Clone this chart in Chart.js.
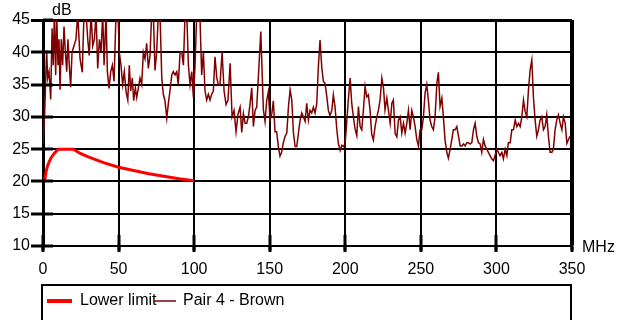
<!DOCTYPE html>
<html>
<head>
<meta charset="utf-8">
<style>
  html, body { margin: 0; padding: 0; background: #fff; }
  #wrap { width: 628px; height: 320px; }
</style>
</head>
<body>
<div id="wrap"><canvas id="chart" width="628" height="320"></canvas></div>
<script src="https://cdn.jsdelivr.net/npm/chart.js@4.4.1/dist/chart.umd.min.js"></script>
<script>
// axis ticks
const xTickValues = [0, 50, 100, 150, 200, 250, 300, 350];
const yTickValues = [10, 15, 20, 25, 30, 35, 40, 45];

// Lower limit
const limitFreq = [1, 2, 3, 4, 5, 6, 8, 10, 15, 20, 25, 30, 40, 50, 60, 70, 80, 90, 100];
const limitDb = [20, 21.5, 22.4, 23, 23.5, 23.9, 24.5, 25, 25, 25, 24.3, 23.8, 22.9, 22.2, 21.7, 21.2, 20.8, 20.4, 20.1];

// Pair 4 - Brown (values above 45 run off the top of the plot)
const pairFreq = [
  0, 1.1, 1.8, 2.4, 3.1, 4.0, 5.1, 6.0, 6.8, 7.5, 8.4, 9.1, 9.9, 10.6, 11.3, 12.1, 13.0, 13.9, 14.8, 15.7,
  16.5, 17.4, 18.3, 19.2, 20.5, 21.8, 23.0, 24.5, 26.0, 27.1, 28.5, 29.6, 30.6, 31.8, 32.9, 34.0, 35.1, 36.2, 37.3, 38.4,
  39.5, 40.4, 41.7, 42.6, 43.7, 44.8, 45.9, 47.0, 48.3, 49.6, 50.5, 51.6, 52.7, 53.8, 54.9, 56.1, 57.1, 58.0, 59.1, 60.0,
  61.1, 62.0, 63.1, 64.2, 65.3, 66.4, 67.5, 68.6, 69.7, 70.8, 71.9, 73.0, 74.1, 75.2, 76.3, 77.4, 78.6, 79.6, 80.7, 81.9,
  82.9, 84.0, 85.2, 86.2, 87.4, 88.5, 89.5, 90.7, 91.8, 92.9, 94.0, 95.1, 96.2, 97.3, 98.4, 99.5, 100.6, 101.7, 102.8, 103.9,
  105.0, 106.1, 107.2, 108.3, 109.4, 110.5, 111.6, 112.7, 113.8, 115.0, 116.0, 117.1, 118.5, 119.8, 121.1, 122.4, 123.8, 125.1, 126.4, 127.7,
  129.1, 130.4, 131.5, 132.6, 133.7, 134.8, 135.9, 137.0, 138.1, 139.2, 140.3, 141.4, 142.5, 144.1, 145.8, 146.9, 148.0, 149.1, 150.2, 151.4,
  152.4, 153.5, 154.6, 155.7, 156.8, 157.9, 159.0, 160.2, 161.3, 162.4, 163.5, 164.6, 165.7, 166.8, 167.9, 169.0, 170.1, 171.2, 172.3, 173.4,
  174.5, 175.6, 176.7, 177.8, 178.9, 180.0, 181.1, 182.2, 183.3, 184.4, 185.5, 186.6, 187.8, 188.8, 189.9, 191.1, 192.1, 193.2, 194.4, 195.4,
  196.6, 197.7, 198.7, 199.9, 201.0, 202.0, 203.2, 204.3, 205.4, 206.5, 207.6, 208.7, 209.8, 210.9, 212.0, 213.1, 214.2, 215.3, 216.4, 217.5,
  218.6, 219.7, 220.8, 221.9, 223.0, 224.2, 225.3, 226.3, 227.5, 228.5, 229.7, 230.8, 231.8, 233.0, 234.1, 235.2, 236.3, 237.4, 238.5, 239.6,
  240.7, 241.8, 242.9, 244.0, 245.1, 246.2, 247.3, 248.4, 249.5, 250.6, 251.7, 252.8, 253.9, 255.0, 256.1, 257.2, 258.3, 259.4, 260.6, 261.6,
  262.7, 263.9, 264.9, 266.0, 267.2, 268.2, 269.4, 270.5, 271.5, 272.7, 273.8, 274.9, 276.0, 277.1, 278.2, 279.3, 280.4, 281.5, 282.6, 283.7,
  284.8, 285.9, 287.0, 288.1, 289.2, 290.3, 291.4, 292.5, 293.6, 294.7, 295.8, 296.9, 298.0, 299.1, 300.3, 301.3, 302.4, 303.6, 304.6, 305.8,
  306.9, 307.9, 309.1, 310.2, 311.3, 312.4, 313.5, 314.6, 315.7, 316.8, 317.9, 319.0, 320.1, 321.2, 322.3, 323.4, 324.5, 325.6, 326.7, 327.8,
  328.9, 330.0, 331.1, 332.2, 333.3, 334.4, 335.5, 336.7, 337.7, 338.8, 339.9, 341.0, 342.2, 343.3, 344.3, 345.5, 346.6, 347.7, 348.7
];
const pairDb = [
  26, 30.5, 36, 40.3, 36, 37, 32.7, 43.7, 38, 46, 36.5, 46, 38, 42, 34.2, 42, 38, 44, 40, 37,
  42, 38, 34.6, 40, 41, 42, 46, 39, 36.9, 46, 46, 42, 39.5, 46, 41, 42, 46, 37.5, 42, 40,
  46, 38, 46, 37, 34.4, 37, 38, 35.5, 46, 46, 40, 38, 35, 37, 34, 32.6, 38, 34, 36, 32.5,
  34.5, 33, 34.5, 36, 35, 40, 39, 41.4, 37.5, 39.5, 46, 46, 37.2, 40, 46, 46, 36, 33.5, 32.5, 29.8,
  32, 34, 36.5, 37, 36.5, 37, 35, 40, 40, 38, 46, 46, 38, 35, 37, 33, 38, 46, 46, 45,
  36.5, 40, 34, 32.6, 33.5, 32.6, 33.5, 34, 39.3, 36, 35, 35, 40, 34, 31.9, 32.6, 38.3, 30, 31, 27.7,
  30.5, 31.5, 27.6, 30.5, 29, 29, 30, 32, 34.5, 28.5, 31, 31.5, 36.2, 43.2, 31.1, 29.3, 32.5, 33.9, 29.5, 30.5,
  32.5, 27.7, 27.7, 25.4, 23.9, 24.5, 26, 27, 27.5, 31.6, 34.2, 32.6, 27.5, 25.4, 25.4, 27.5, 29.5, 30.6, 30, 29.3,
  32.1, 29.5, 31, 30.6, 31.5, 30.6, 32, 37.8, 41.9, 37.8, 35.5, 35.2, 33.1, 31, 30.2, 31, 33.4, 31.6, 28, 25.9,
  24.8, 25.6, 25.4, 25.9, 29.3, 32.6, 36, 32, 29.9, 28.1, 27.1, 31.6, 28.5, 28, 31.1, 34.7, 33.1, 33.4, 31, 27.3,
  26.4, 28.5, 29.9, 31, 32.6, 36, 34.4, 31.1, 32.9, 31.1, 29, 32.1, 32.6, 27.4, 26.9, 29.5, 30, 27.5, 29, 27.5,
  29, 31, 28, 31, 30, 28.5, 26.5, 25.5, 28, 28, 30, 33.7, 35, 32.5, 29.5, 28.5, 28, 30, 35.2, 36.9,
  31.6, 32.9, 30, 26.4, 24.5, 23.6, 25, 26.5, 28, 28, 28.5, 27, 25.5, 25.5, 25.8, 25.5, 26, 26, 25.8, 26,
  28, 29, 27, 26, 25.8, 24.5, 26.5, 25.5, 25, 24.5, 24, 23.5, 23.2, 24, 25, 24.5, 24, 24.5, 23.5, 25,
  24, 26, 26, 28, 28, 29.5, 28.5, 29, 28.5, 30, 32.6, 30.8, 30, 34.2, 37.3, 38.8, 33, 29.5, 27, 28,
  29.5, 30, 28, 28.5, 30.3, 27, 24.5, 24.5, 25, 28, 29.5, 30.3, 29, 28, 30, 29, 25.9, 26.5, 27
];

const FONT = '"Liberation Sans", Arial, sans-serif';
const limitColor = '#ff0000';
const pairColor = '#800000';

// short ticks inside the plot, axis titles and the legend box
const decor = {
  id: 'decor',
  afterDraw(chart) {
    const { ctx, chartArea, scales } = chart;
    const x = scales.x, y = scales.y;
    ctx.save();
    ctx.strokeStyle = '#000';
    ctx.lineWidth = 3;
    yTickValues.forEach(v => {
      const py = Math.round(y.getPixelForValue(v));
      ctx.beginPath();
      ctx.moveTo(chartArea.left, py);
      ctx.lineTo(chartArea.left + 10, py);
      ctx.stroke();
    });
    xTickValues.forEach(v => {
      const px = Math.round(x.getPixelForValue(v));
      ctx.beginPath();
      ctx.moveTo(px, chartArea.bottom + 4);
      ctx.lineTo(px, chartArea.bottom - 11);
      ctx.stroke();
    });

    ctx.fillStyle = '#000';
    ctx.font = '16px ' + FONT;
    ctx.textBaseline = 'middle';
    ctx.textAlign = 'left';
    ctx.fillText('dB', chartArea.left + 9, 11);
    ctx.fillText('MHz', chartArea.right + 10, chartArea.bottom + 2);

    // legend
    ctx.lineWidth = 2;
    ctx.strokeRect(42, 285, 529, 60);
    const ly = 301;
    ctx.strokeStyle = limitColor;
    ctx.lineWidth = 4;
    ctx.beginPath(); ctx.moveTo(47, ly); ctx.lineTo(72, ly); ctx.stroke();
    ctx.fillText('Lower limit', 80, ly);
    ctx.strokeStyle = pairColor;
    ctx.lineWidth = 1.5;
    ctx.beginPath(); ctx.moveTo(154, ly); ctx.lineTo(176, ly); ctx.stroke();
    ctx.fillText('Pair 4 - Brown', 183, ly);
    ctx.restore();
  }
};

const ctx = document.getElementById('chart').getContext('2d');
new Chart(ctx, {
  type: 'line',
  data: {
    datasets: [
      {
        label: 'Lower limit',
        data: limitFreq.map((f, i) => ({ x: f, y: limitDb[i] })),
        borderColor: limitColor,
        borderWidth: 3,
        pointRadius: 0,
        tension: 0
      },
      {
        label: 'Pair 4 - Brown',
        data: pairFreq.map((f, i) => ({ x: f, y: pairDb[i] })),
        borderColor: pairColor,
        borderWidth: 1.5,
        pointRadius: 0,
        tension: 0
      }
    ]
  },
  options: {
    responsive: false,
    animation: false,
    devicePixelRatio: 1,
    layout: { padding: { top: 20, right: 56, left: 0, bottom: 0 } },
    plugins: {
      legend: { display: false },
      tooltip: { enabled: false }
    },
    scales: {
      x: {
        type: 'linear',
        min: 0,
        max: 350,
        afterBuildTicks: s => { s.ticks = xTickValues.map(v => ({ value: v })); },
        afterFit: s => { s.height = 74; },
        ticks: { color: '#000', font: { size: 16, family: FONT }, padding: 8, maxRotation: 0 },
        grid: {
          color: '#000',
          lineWidth: c => (c.tick && c.tick.value === 350 ? 4 : 2),
          tickLength: 6,
          tickWidth: 3
        },
        border: { color: '#000', width: 2 }
      },
      y: {
        type: 'linear',
        min: 10,
        max: 45,
        afterBuildTicks: s => { s.ticks = yTickValues.map(v => ({ value: v })); },
        afterFit: s => { s.width = 43; },
        ticks: { color: '#000', font: { size: 16, family: FONT }, padding: 1 },
        grid: {
          color: '#000',
          lineWidth: c => (c.tick && c.tick.value === 45 ? 3 : 2),
          tickLength: 12,
          tickWidth: 3
        },
        border: { color: '#000', width: 3 }
      }
    }
  },
  plugins: [decor]
});
</script>
</body>
</html>
